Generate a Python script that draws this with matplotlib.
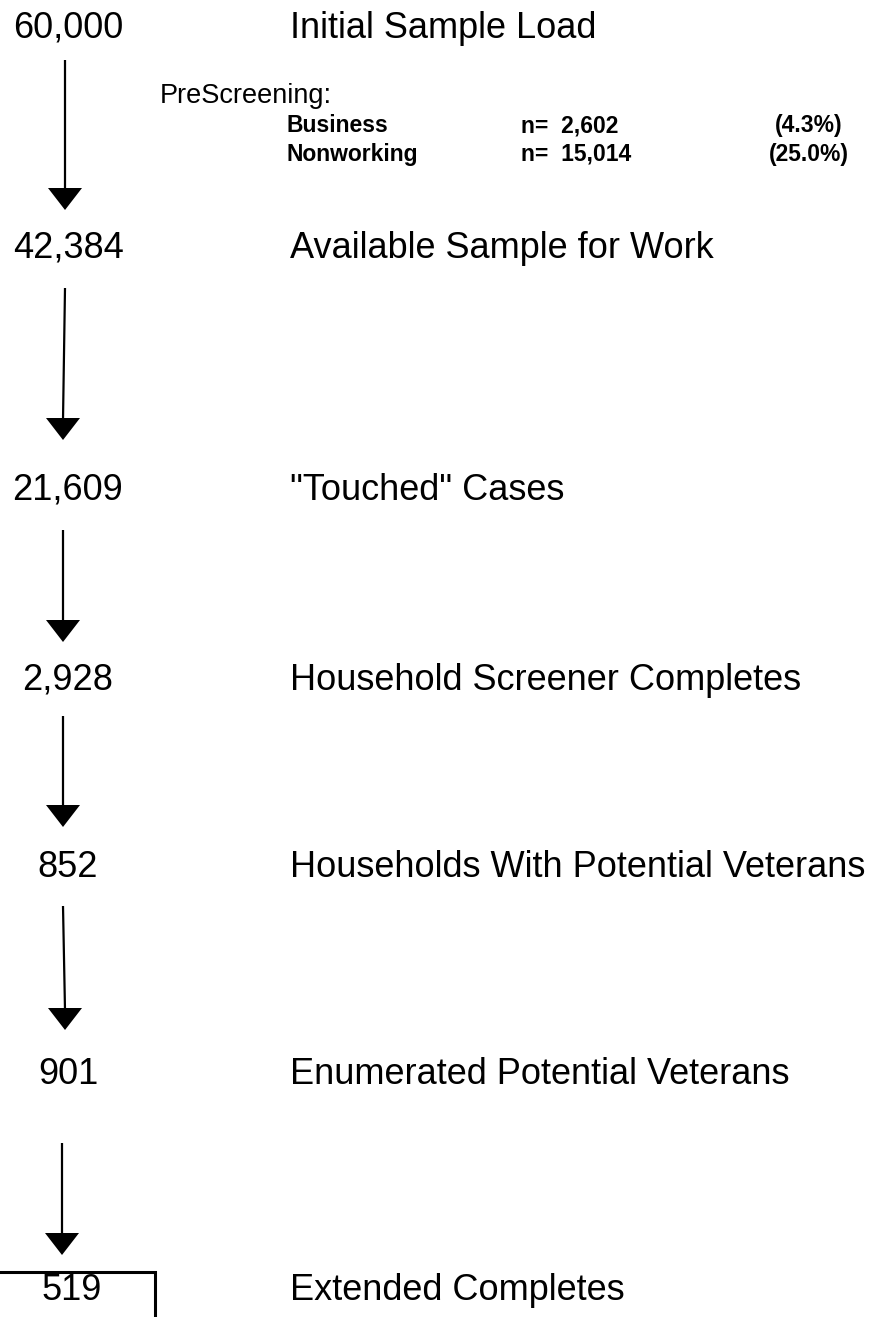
import matplotlib.pyplot as plt
from matplotlib.patches import Polygon

# --- flow stages ---
counts = ["60,000", "42,384", "21,609", "2,928", "852", "901", "519"]
stages = ["Initial Sample Load", "Available Sample for Work", "\"Touched\" Cases",
          "Household Screener Completes", "Households With Potential Veterans",
          "Enumerated Potential Veterans", "Extended Completes"]

# --- prescreening breakdown ---
pre_cats = ["Business", "Nonworking"]
pre_n    = ["2,602", "15,014"]
pre_pct  = ["(4.3%)", "(25.0%)"]

FONT = "Liberation Sans"

W, H = 883, 1317
fig = plt.figure(figsize=(W / 100, H / 100), dpi=100)
ax = fig.add_axes([0, 0, 1, 1])
ax.set_xlim(0, W)
ax.set_ylim(H, 0)
ax.axis("off")

# baselines of each stage row (pixels from top)
row_base = [38, 258, 500, 690, 877, 1084, 1300]
num_x    = [68, 68, 68, 68, 68, 68, 72]
label_x  = 290

for i, (c, s) in enumerate(zip(counts, stages)):
    ax.text(num_x[i], row_base[i], c, ha="center", va="baseline", fontsize=26, family=FONT)
    ax.text(label_x, row_base[i], s, ha="left", va="baseline", fontsize=26, family=FONT)

# prescreening block
ax.text(160, 103, "PreScreening:", ha="left", va="baseline", fontsize=19.5, family=FONT)
for j, (cat, n, p) in enumerate(zip(pre_cats, pre_n, pre_pct)):
    y = [132, 161][j]
    ax.text(287, y, cat, ha="left", va="baseline", fontsize=16.5, family=FONT, weight="bold")
    ax.text(521, y, "n=  " + n, ha="left", va="baseline", fontsize=16.5, family=FONT, weight="bold")
    ax.text(809, y, p, ha="center", va="baseline", fontsize=16.5, family=FONT, weight="bold")

# arrows: (x top, y top, x tip, y tip)
arrows = [(65, 60, 65, 210), (65, 288, 63, 440), (63, 530, 63, 642),
          (63, 716, 63, 827), (63, 906, 65, 1030), (62, 1143, 62, 1255)]
head_len, head_half = 22, 17
for x0, y0, x1, y1 in arrows:
    ax.plot([x0, x1], [y0, y1 - head_len + 2], color="black", lw=1.6, solid_capstyle="butt")
    ax.add_patch(Polygon([(x1 - head_half, y1 - head_len), (x1 + head_half, y1 - head_len), (x1, y1)],
                         closed=True, color="black", lw=0))

# box around final count
ax.plot([-5, 155, 155], [1272, 1272, H + 5], color="black", lw=2.2, solid_joinstyle="miter")

fig.savefig("out.png", dpi=100)
